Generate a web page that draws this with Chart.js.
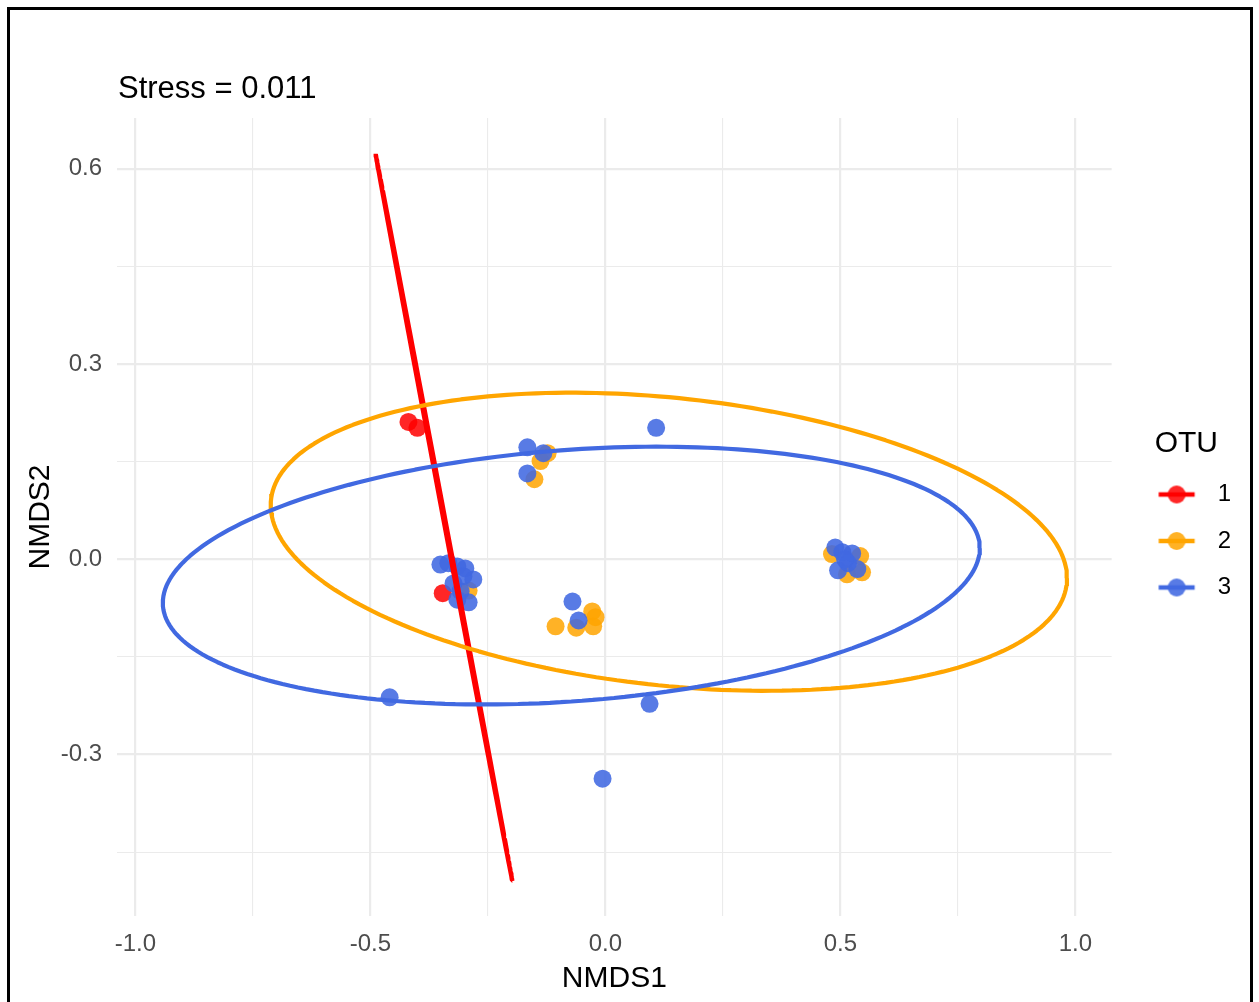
<!DOCTYPE html>
<html>
<head>
<meta charset="utf-8">
<script src="https://cdn.jsdelivr.net/npm/chart.js@4"></script>
<style>
  html, body { margin: 0; padding: 0; background: #fff; overflow: hidden; }
  #frame { position: absolute; left: 7px; top: 7px; width: 1246px; height: 1020px; border: 3px solid #000; box-sizing: border-box; }
  #wrap { position: absolute; left: 0; top: 0; width: 1259px; height: 1002px; }
</style>
</head>
<body>
<div id="frame"></div>
<div id="wrap"><canvas id="nmds" width="1259" height="1002"></canvas></div>
<script>
// NMDS site scores, one pair of arrays per OTU group
const otuNames = ['1', '2', '3'];

const otu1X = [-0.419, -0.400, -0.346];
const otu1Y = [0.211, 0.202, -0.052];

const otu2X = [-0.291, -0.123, -0.138, -0.151, -0.106, -0.062, -0.028, -0.021, -0.026, 0.482, 0.542, 0.514, 0.546];
const otu2Y = [-0.048, 0.163, 0.151, 0.123, -0.103, -0.105, -0.080, -0.089, -0.103, 0.008, 0.005, -0.023, -0.020];

const otu3X = [-0.351, -0.334, -0.315, -0.298, -0.281, -0.323, -0.308, -0.291, -0.315, -0.302,
               -0.166, -0.132, -0.166, 0.108, -0.070, -0.057,
               0.489, 0.504, 0.525, 0.495, 0.516, 0.536, 0.510,
               -0.459, 0.094, -0.006];
const otu3Y = [-0.008, -0.006, -0.011, -0.014, -0.031, -0.037, -0.049, -0.066, -0.062, -0.026,
               0.172, 0.163, 0.132, 0.202, -0.065, -0.094,
               0.018, 0.011, 0.009, -0.017, -0.006, -0.015, 0.000,
               -0.212, -0.222, -0.337];

// Confidence ellipses per group: centre, half-width along NMDS1,
// NMDS2 offset at the rightmost point, half-height along NMDS2
const ellipseCx = [-0.3435, 0.135, -0.0725];
const ellipseCy = [0.0645, 0.027, -0.025];
const ellipseRx = [0.1455, 0.847, 0.869];
const ellipseDy = [-0.5585, -0.056, 0.042];
const ellipseRy = [0.55856, 0.229, 0.198];

// Axis ticks
const xMajor = [-1.0, -0.5, 0.0, 0.5, 1.0];
const xMinor = [-0.75, -0.25, 0.25, 0.75];
const yMajor = [-0.3, 0.0, 0.3, 0.6];
const yMinor = [-0.45, -0.15, 0.15, 0.45];

const title = 'Stress = 0.011';
const xTitle = 'NMDS1';
const yTitle = 'NMDS2';
const legendTitle = 'OTU';

const lineColors = ['#FF0000', '#FFA500', '#4169E1'];
const pointColors = ['rgba(255,0,0,0.85)', 'rgba(255,165,0,0.85)', 'rgba(65,105,225,0.88)'];

const FONT = "'Liberation Sans', Arial, sans-serif";
Chart.defaults.font.family = FONT;

function zipXY(xs, ys) {
  return xs.map((x, i) => ({ x: x, y: ys[i] }));
}

function ellipsePath(i, n) {
  const a = ellipseRx[i];
  const b = ellipseDy[i];
  const c = Math.sqrt(Math.max(ellipseRy[i] * ellipseRy[i] - b * b, 0));
  const pts = [];
  for (let k = 0; k <= n; k++) {
    const t = 2 * Math.PI * k / n;
    pts.push({ x: ellipseCx[i] + a * Math.cos(t), y: ellipseCy[i] + b * Math.cos(t) + c * Math.sin(t) });
  }
  return pts;
}

// legend key: short line with a dot on it (drawn left of the image centre)
function legendKey(i) {
  const cv = document.createElement('canvas');
  cv.width = 68; cv.height = 22;
  const g = cv.getContext('2d');
  const cx = 19.25;
  g.strokeStyle = lineColors[i];
  g.lineWidth = 4.5;
  g.beginPath(); g.moveTo(cx - 18, 11); g.lineTo(cx + 18, 11); g.stroke();
  g.fillStyle = pointColors[i];
  g.beginPath(); g.arc(cx, 11, 9, 0, 2 * Math.PI); g.fill();
  return cv;
}

const pointSets = [[otu1X, otu1Y], [otu2X, otu2Y], [otu3X, otu3Y]];
const datasets = [];
// points underneath, red first then orange then blue
pointSets.forEach((p, i) => {
  datasets.push({
    label: otuNames[i],
    data: zipXY(p[0], p[1]),
    backgroundColor: pointColors[i],
    borderWidth: 0,
    pointRadius: 9,
    pointHoverRadius: 9,
    order: 5 - i
  });
});
// ellipses on top
otuNames.forEach((name, i) => {
  datasets.push({
    label: 'ellipse ' + name,
    data: ellipsePath(i, 240),
    showLine: true,
    borderColor: lineColors[i],
    borderWidth: 4.2,
    borderJoinStyle: 'bevel',
    borderCapStyle: 'butt',
    pointRadius: 0,
    pointHoverRadius: 0,
    fill: false,
    tension: 0,
    order: 2 - i
  });
});

const near = (v, arr) => arr.some(a => Math.abs(a - v) < 1e-6);

// plot title over the panel's left edge
const titlePlugin = {
  id: 'stressTitle',
  afterDraw(chart) {
    const ctx = chart.ctx;
    ctx.save();
    ctx.font = '31px ' + FONT;
    ctx.fillStyle = '#000';
    ctx.textAlign = 'left';
    ctx.textBaseline = 'alphabetic';
    ctx.fillText(title, chart.chartArea.left + 1, 98);
    ctx.restore();
  }
};

// keep the legend block centred on the panel, next to it
const legendPlace = {
  id: 'legendPlace',
  beforeDraw(chart) {
    const lg = chart.legend;
    if (!lg) return;
    const area = chart.chartArea;
    lg.left = area.right + 43;
    lg.right = lg.left + lg.width;
    lg.top = area.top;
    lg.bottom = 932.5;
    lg.height = lg.bottom - lg.top;
  }
};

new Chart(document.getElementById('nmds'), {
  type: 'scatter',
  data: { datasets: datasets },
  plugins: [titlePlugin, legendPlace],
  options: {
    responsive: false,
    animation: false,
    devicePixelRatio: 1,
    layout: { padding: { left: 10, top: 118, right: 61, bottom: 0 } },
    plugins: {
      tooltip: { enabled: false },
      title: { display: false },
      legend: {
        position: 'right',
        align: 'center',
        title: { display: true, text: legendTitle, position: 'start', color: '#000', font: { size: 30 }, padding: { top: 0, bottom: -4.5 } },
        labels: {
          usePointStyle: true,
          pointStyleWidth: 28.5,
          padding: 22.5,
          color: '#000',
          font: { size: 24 },
          generateLabels() {
            return otuNames.map((n, i) => ({
              text: n,
              pointStyle: legendKey(i),
              fillStyle: pointColors[i],
              strokeStyle: lineColors[i],
              lineWidth: 0,
              hidden: false,
              datasetIndex: i
            }));
          }
        }
      }
    },
    scales: {
      x: {
        type: 'linear',
        min: -1.039,
        max: 1.077,
        afterBuildTicks(scale) {
          scale.ticks = xMajor.concat(xMinor).sort((a, b) => a - b).map(v => ({ value: v }));
        },
        afterFit(scale) { scale.height = 86; },
        grid: {
          drawTicks: false,
          color: '#ebebeb',
          lineWidth: ctx => (ctx.tick && near(ctx.tick.value, xMajor)) ? 2.2 : 1.1
        },
        border: { display: false },
        ticks: {
          autoSkip: false,
          maxRotation: 0,
          padding: 14,
          color: '#4d4d4d',
          font: { size: 24 },
          callback: v => near(v, xMajor) ? v.toFixed(1) : ''
        },
        title: { display: true, text: xTitle, color: '#000', font: { size: 30 }, padding: { top: 0, bottom: 5 } }
      },
      y: {
        type: 'linear',
        min: -0.548,
        max: 0.678,
        afterBuildTicks(scale) {
          scale.ticks = yMajor.concat(yMinor).sort((a, b) => a - b).map(v => ({ value: v }));
        },
        afterFit(scale) { scale.width = 107; },
        grid: {
          drawTicks: false,
          color: '#ebebeb',
          lineWidth: ctx => (ctx.tick && near(ctx.tick.value, yMajor)) ? 2.2 : 1.1
        },
        border: { display: false },
        ticks: {
          autoSkip: false,
          padding: 15,
          color: '#4d4d4d',
          font: { size: 24 },
          callback: v => near(v, yMajor) ? v.toFixed(1) : ''
        },
        title: { display: true, text: yTitle, color: '#000', font: { size: 30 }, padding: { top: 13, bottom: 0 } }
      }
    }
  }
});
</script>
</body>
</html>
